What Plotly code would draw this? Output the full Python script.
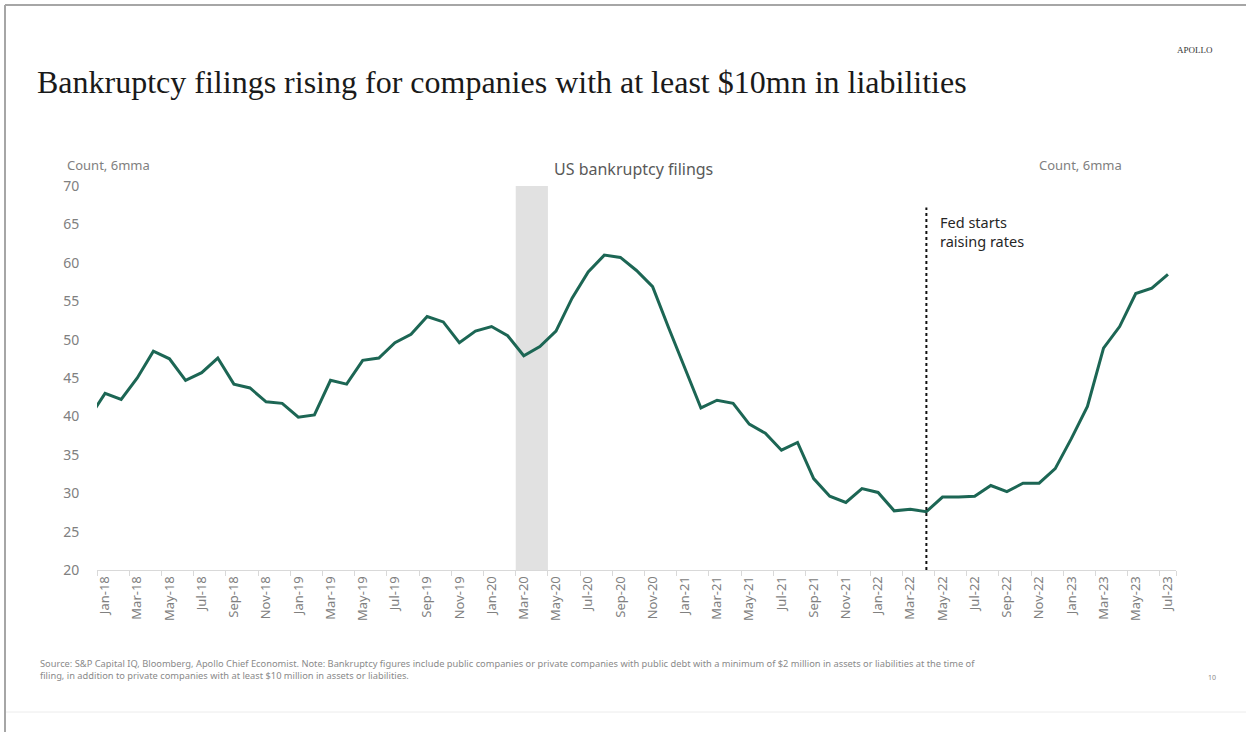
import pandas as pd
import plotly.graph_objects as go

# Monthly series, Dec-17 .. Jul-23 (US bankruptcy filings, count, 6-month moving average)
months = [p.strftime("%b-%y") for p in pd.period_range("2017-12", "2023-07", freq="M")]
filings = [
    39.8,                                                                  # Dec-17
    43.0, 42.2, 45.0, 48.5, 47.5, 44.7, 45.7, 47.6, 44.2, 43.7, 41.9, 41.7,  # 2018
    39.9, 40.2, 44.7, 44.2, 47.3, 47.6, 49.6, 50.7, 53.0, 52.3, 49.6, 51.1,  # 2019
    51.7, 50.5, 47.9, 49.1, 51.1, 55.4, 58.8, 61.0, 60.7, 59.0, 56.9, 51.5,  # 2020
    46.2, 41.1, 42.1, 41.7, 39.0, 37.8, 35.6, 36.6, 31.9, 29.6, 28.8, 30.6,  # 2021
    30.1, 27.7, 27.9, 27.6, 29.5, 29.5, 29.6, 31.0, 30.2, 31.3, 31.3, 33.2,  # 2022
    37.1, 41.3, 48.9, 51.7, 56.0, 56.7, 58.5,                                # 2023
]
first_shown = "Jan-18"
recession = ["Mar-20", "Apr-20"]
fed_hike = "Apr-22"
y_ticks = [20, 25, 30, 35, 40, 45, 50, 55, 60, 65, 70]

# month index, Jan-18 = 0
idx = {m: i - months.index(first_shown) for i, m in enumerate(months)}
x = [idx[m] for m in months]
shown = [m for m in months if idx[m] >= 0]
tick_labels = shown[::2]
tick_pos = [idx[m] for m in tick_labels]
boundaries = [p - 0.5 for p in tick_pos] + [idx[shown[-1]] + 0.5]

W, H = 1246, 732
L, R, T, B = 97, 70, 186, 162


def px(v):
    return (v - L) / (W - L - R)


def py(v):
    return (H - B - v) / (H - T - B)


SANS = "Noto Sans"
SERIF = "Liberation Serif"
GREY = "#808080"

fig = go.Figure()
fig.add_trace(go.Scatter(
    x=x, y=filings, mode="lines",
    line=dict(color="#1c6654", width=3),
    hoverinfo="skip", showlegend=False,
))

# recession shading and Fed marker
fig.add_shape(type="rect", xref="x", yref="y",
              x0=idx[recession[0]] - 0.5, x1=idx[recession[-1]] + 0.5,
              y0=20, y1=70, fillcolor="#e1e1e1", line_width=0, layer="below")
fig.add_shape(type="line", xref="x", yref="y",
              x0=idx[fed_hike], x1=idx[fed_hike], y0=20, y1=67.2,
              line=dict(color="#111111", width=2, dash="dot"))

annotations = [
    dict(text="Bankruptcy filings rising for companies with at least $10mn in liabilities",
         x=px(35), y=py(82), xanchor="left", yanchor="middle",
         font=dict(family=SERIF, size=32, color="#1a1a1a")),
    dict(text="APOLLO", x=px(1215), y=py(50), xanchor="right", yanchor="middle",
         font=dict(family=SERIF, size=9, color="#333333")),
    dict(text="US bankruptcy filings", x=px(633), y=py(169), xanchor="center", yanchor="middle",
         font=dict(family=SANS, size=16, color="#595959")),
    dict(text="Count, 6mma", x=px(65), y=py(165), xanchor="left", yanchor="middle",
         font=dict(family=SANS, size=13, color=GREY)),
    dict(text="Count, 6mma", x=px(1124), y=py(165), xanchor="right", yanchor="middle",
         font=dict(family=SANS, size=13, color=GREY)),
    dict(text="Fed starts<br>raising rates", x=idx[fed_hike], xref="x", y=py(231),
         xanchor="left", yanchor="middle", xshift=12, align="left",
         font=dict(family=SANS, size=14.5, color="#262626")),
    dict(text="Source: S&P Capital IQ, Bloomberg, Apollo Chief Economist. Note: Bankruptcy figures include public companies or private companies with public debt with a minimum of $2 million in assets or liabilities at the time of"
              "<br>filing, in addition to private companies with at least $10 million in assets or liabilities.",
         x=px(38), y=py(669), xanchor="left", yanchor="middle", align="left",
         font=dict(family=SANS, size=9.3, color="#8a8a8a")),
    dict(text="10", x=px(1212), y=py(677), xanchor="center", yanchor="middle",
         font=dict(family=SANS, size=7, color="#8a8a8a")),
]
for a in annotations:
    a.setdefault("xref", "paper")
    a.setdefault("yref", "paper")
    a["showarrow"] = False
fig.update_layout(annotations=annotations)

# page frame
fig.add_shape(type="line", xref="paper", yref="paper", x0=px(5), x1=px(5), y0=py(5), y1=py(732),
              line=dict(color="#a6a6a6", width=2))
fig.add_shape(type="line", xref="paper", yref="paper", x0=px(5), x1=px(1246), y0=py(5), y1=py(5),
              line=dict(color="#a6a6a6", width=2))
fig.add_shape(type="line", xref="paper", yref="paper", x0=px(6), x1=px(1246), y0=py(712), y1=py(712),
              line=dict(color="#ececec", width=1))

fig.update_layout(
    width=W, height=H,
    margin=dict(l=L, r=R, t=T, b=B, autoexpand=False),
    paper_bgcolor="white", plot_bgcolor="white",
    xaxis=dict(
        range=[-0.5, idx[shown[-1]] + 0.5], tickmode="array",
        tickvals=tick_pos, ticktext=tick_labels, tickangle=-90,
        ticks="", showgrid=False, zeroline=False,
        showline=True, linecolor="#d9d9d9", linewidth=1,
        tickfont=dict(family=SANS, size=13, color=GREY),
        minor=dict(tickmode="array", tickvals=boundaries, ticks="outside",
                   ticklen=5, tickcolor="#d9d9d9", showgrid=False),
    ),
    yaxis=dict(
        range=[20, 70], tickmode="array", tickvals=y_ticks,
        showgrid=False, zeroline=False, showline=False,
        ticks="outside", ticklen=14, tickcolor="rgba(0,0,0,0)",
        tickfont=dict(family=SANS, size=14, color=GREY),
    ),
    yaxis2=dict(
        range=[20, 70], tickmode="array", tickvals=y_ticks,
        overlaying="y", side="right", anchor="x",
        showgrid=False, zeroline=False, showline=False,
        ticks="outside", ticklen=5, tickcolor="rgba(0,0,0,0)",
        tickfont=dict(family=SANS, size=14, color=GREY),
    ),
    showlegend=False,
)

fig.write_html("out.html")
